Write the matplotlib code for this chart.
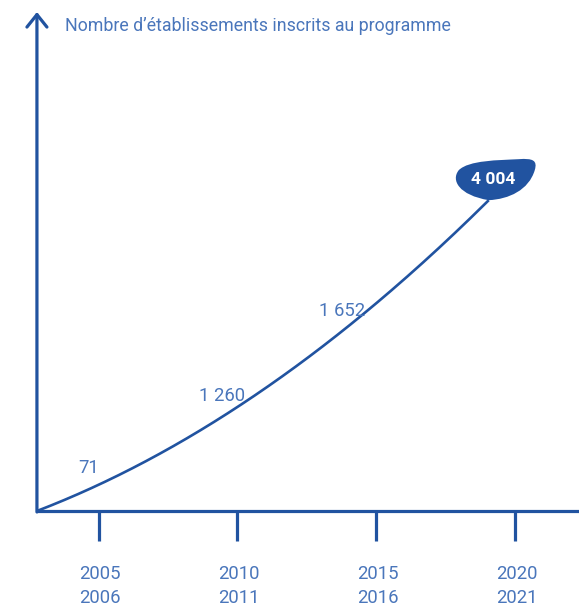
import matplotlib
matplotlib.use("Agg")
import matplotlib.pyplot as plt
import numpy as np
from matplotlib.path import Path
from matplotlib.patches import PathPatch
from matplotlib import transforms

# data
periods = ["2005\n2006", "2010\n2011", "2015\n2016", "2020\n2021"]
tick_years = [2005, 2010, 2015, 2020]
values = [71, 1260, 1652, 4004]
value_labels = ["71", "1 260", "1 652", "4 004"]
title = "Nombre d\u2019établissements inscrits au programme"

line_col = "#2153a0"
text_col = "#4a76bb"
plt.rcParams['font.family'] = ['Roboto', 'DejaVu Sans']

fig = plt.figure(figsize=(5.79, 6.08), dpi=100)
ax = fig.add_axes([0, 0, 1, 1])
ax.set_xlim(2001.45, 2022.3)
ax.set_ylim(-97, 511)
ax.axis("off")

x0 = 2002.78  # origin of the axes
# decorative growth curve (not to scale)
def curve(yr):
    t = yr - x0
    return 10.66 * t + 0.519 * t ** 2

xs = np.linspace(x0, 2019.05, 200)
ax.plot(xs, curve(xs), color=line_col, lw=1.9, solid_capstyle="butt", zorder=3)

# axes lines
ax.plot([x0, 2022.3], [0, 0], color=line_col, lw=2.3, solid_capstyle="butt")
ax.annotate("", xy=(x0, 499), xytext=(x0, -1),
            arrowprops=dict(arrowstyle="->,head_length=0.45,head_width=0.36",
                            mutation_scale=20, lw=2.3, color=line_col,
                            shrinkA=0, shrinkB=0))
ax.text(x0 + 1.0, 485, title, color=text_col, fontsize=12.8, ha="left", va="center")

# ticks and period labels
for yr, lab in zip(tick_years, periods):
    ax.plot([yr, yr], [0, -30], color=line_col, lw=2.3, solid_capstyle="butt")
    ax.text(yr + 0.05, -75, lab, color=text_col, fontsize=13.3, ha="center",
            va="center", linespacing=1.45)

# value labels along the curve
label_years = [2004.65, 2009.45, 2013.75]
for yr, lab in zip(label_years, value_labels[:3]):
    ax.annotate(lab, (yr, curve(yr)), xytext=(0, 15), textcoords="offset points",
                ha="center", va="center", color=text_col, fontsize=13.3)

# bubble for the last value
tip_yr = 2019.05
tip = (tip_yr, curve(tip_yr))
verts = [(0, 0), (20, 1), (40, 10), (46, 30), (49, 40), (44, 42), (30, 41),
         (10, 40), (-20, 40), (-30, 30), (-38, 20), (-30, 5), (0, 0)]
codes = [Path.MOVETO] + [Path.CURVE4] * 12
blob = PathPatch(Path(verts, codes), facecolor=line_col, edgecolor="none",
                 transform=transforms.Affine2D().scale(0.72 * fig.dpi / 72.0) +
                 transforms.ScaledTranslation(*tip, ax.transData), zorder=4)
ax.add_patch(blob)
ax.annotate(value_labels[3], tip, xytext=(3, 15), textcoords="offset points",
            ha="center", va="center", color="white", fontsize=12.5,
            fontweight="bold", zorder=5)

fig.savefig("out.png", dpi=100)
